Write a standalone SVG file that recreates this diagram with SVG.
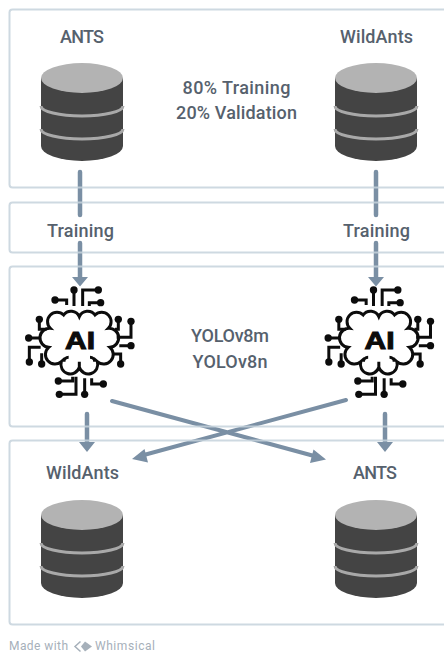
<svg xmlns="http://www.w3.org/2000/svg" width="444" height="653" viewBox="0 0 444 653">
<style>
text{font-family:"Roboto","Liberation Sans",sans-serif;font-size:18px;font-weight:500;fill:#56616d;text-anchor:start}
.box{fill:none;stroke:#c6d2dc;stroke-width:2;stroke-opacity:.85}
.c{fill:none;stroke:#7a8fa4;stroke-width:4.500;stroke-linecap:round}
.x{fill:none;stroke:#7a8fa4;stroke-width:4;stroke-linecap:round}
.h{fill:#7a8fa4}
.w{fill:none;stroke:#0c0c0c;stroke-width:9}
.d{fill:#0c0c0c}
.f{font-size:12px;font-weight:400;fill:#a6b0ba}
</style>
<defs>
<g id="db">
<path d="M41 78V146A41 15 0 0 0 123 146V78Z" fill="#444"/>
<ellipse cx="82" cy="78" rx="41" ry="15" fill="#b3b3b3"/>
<path d="M41 106A41 10 0 0 0 123 106M41 129A41 10 0 0 0 123 129" fill="none" stroke="#a9a9a9" stroke-width="3"/>
</g>
<g id="ai" transform="translate(0,260) scale(.3333)">
<path class="w" d="M238 170A27 27 0 0 1 285 165A28 28 0 0 1 325 205A28 28 0 0 1 330 262A28 28 0 0 1 292 305A28 28 0 0 1 238 322A28 28 0 0 1 184 305A28 28 0 0 1 146 262A28 28 0 0 1 151 205A28 28 0 0 1 191 165A27 27 0 0 1 238 170ZM238 322V305M192 305C192 298 198 292 206 292M284 305C284 298 278 292 270 292"/>
<text x="195" y="268" textLength="90" lengthAdjust="spacingAndGlyphs" style="font-family:'Liberation Sans',sans-serif;font-size:74px;font-weight:700;fill:#0c0c0c;stroke:#0c0c0c;stroke-width:3">AI</text>
<path class="w" d="M222 90V138M248 138V90H295M268 138V128H302M165 120H200V135M118 178V208H140M86 234H122M88 306V262H122M125 312V280M355 178V208H345M393 184V232H350M393 257H358M362 312V282H340M175 363H218V350M178 403H228V350M254 403V355M310 372H275V355"/>
<g class="d"><circle cx="222" cy="90" r="11"/><circle cx="295" cy="90" r="11"/><circle cx="302" cy="128" r="11"/><circle cx="165" cy="120" r="11"/><circle cx="118" cy="178" r="11"/><circle cx="86" cy="234" r="11"/><circle cx="88" cy="306" r="11"/><circle cx="125" cy="312" r="11"/><circle cx="355" cy="178" r="11"/><circle cx="393" cy="184" r="11"/><circle cx="393" cy="257" r="11"/><circle cx="362" cy="312" r="11"/><circle cx="175" cy="363" r="11"/><circle cx="178" cy="403" r="11"/><circle cx="254" cy="403" r="11"/><circle cx="310" cy="372" r="11"/></g>
</g>
</defs>
<g id="connectors">
<path class="c" d="M80 172V215M80 243V278M376 172V215M376 243V278M87 414V443M385 414V443"/>
<path class="x" d="M112 401L316 456.500M346 400L142 455.500"/>
<path class="h" d="M72 277H88L80 286.500ZM368 277H384L376 286.500ZM79 442H95L87 452ZM377 442H393L385 452ZM313.500 449.500L326 459.500L310 463ZM144.500 449L132 459L148 462.500Z"/>
</g>
<g id="boxes">
<rect class="box" x="9.500" y="9.500" width="450" height="178" rx="3"/>
<rect class="box" x="9.500" y="202.500" width="450" height="50" rx="3"/>
<rect class="box" x="9.500" y="266.500" width="450" height="160" rx="3"/>
<rect class="box" x="9.500" y="440.500" width="450" height="184" rx="3"/>
</g>
<g id="node-ants-top"><text x="60" y="42.500" textLength="44">ANTS</text><use href="#db"/></g>
<g id="node-wildants-top"><text x="340" y="42.500" textLength="73">WildAnts</text><use href="#db" x="294"/></g>
<g id="node-split"><text x="182.500" y="94" textLength="108">80% Training</text><text x="176" y="119" textLength="121">20% Validation</text></g>
<g id="node-training-left"><text x="47" y="236.500" textLength="67">Training</text></g>
<g id="node-training-right"><text x="343" y="236.500" textLength="67">Training</text></g>
<g id="node-ai-left"><use href="#ai"/></g>
<g id="node-ai-right"><use href="#ai" x="299.500"/></g>
<g id="node-models"><text x="191" y="342" textLength="78">YOLOv8m</text><text x="192.500" y="367.500" textLength="75">YOLOv8n</text></g>
<g id="node-wildants-bottom"><text x="46" y="479" textLength="73">WildAnts</text><use href="#db" y="437"/></g>
<g id="node-ants-bottom"><text x="353" y="479" textLength="44">ANTS</text><use href="#db" x="294" y="437"/></g>
<g id="credit">
<text class="f" x="9" y="650" textLength="59">Made with</text>
<path d="M85 641.500L92 646.500L85 651.500L81 646.500Z" fill="#a6b0ba"/>
<path d="M80.500 641.500L75 646.500L80.500 651.500" fill="none" stroke="#a6b0ba" stroke-width="1.500"/>
<text class="f" x="95" y="650" textLength="60">Whimsical</text>
</g>
</svg>
